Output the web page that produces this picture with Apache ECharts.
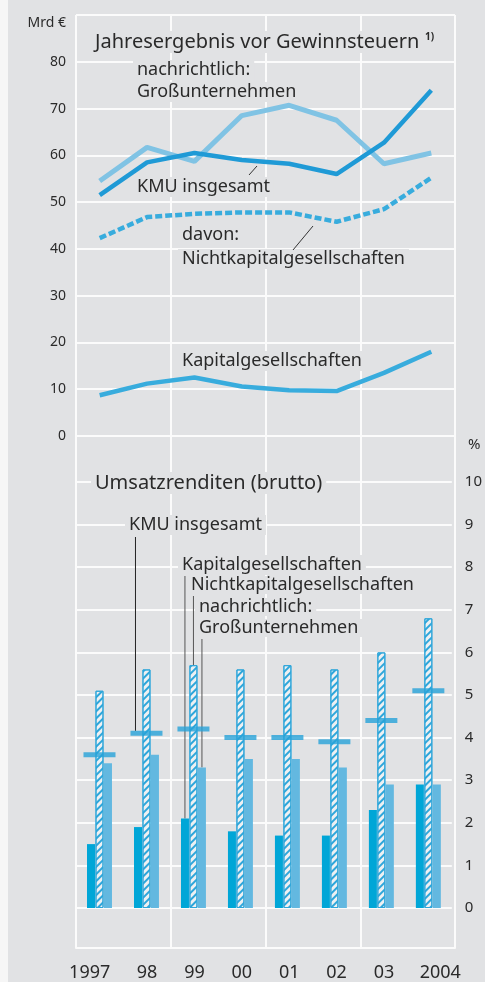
<!DOCTYPE html>
<html>
<head>
<meta charset="utf-8">
<script src="https://cdn.jsdelivr.net/npm/echarts@6/dist/echarts.min.js"></script>
<style>
  html, body { margin: 0; padding: 0; background: #e1e2e4; }
  #main { width: 485px; height: 982px; }
</style>
</head>
<body>
<div id="main"></div>
<script>
// Jahre
const years = ['1997', '98', '99', '00', '01', '02', '03', '2004'];

// Jahresergebnis vor Gewinnsteuern, Mrd €
const grossUnternehmen = [54.5, 61.7, 58.7, 68.5, 70.7, 67.5, 58.2, 60.5];
const kmuGesamt = [51.5, 58.5, 60.5, 59.0, 58.2, 56.0, 62.7, 73.9];
const nichtKapital = [42.3, 46.8, 47.5, 47.8, 47.8, 45.8, 48.5, 55.2];
const kapital = [8.7, 11.2, 12.5, 10.6, 9.8, 9.6, 13.5, 18.0];

// Umsatzrenditen (brutto), %
const renditeKapital = [1.5, 1.9, 2.1, 1.8, 1.7, 1.7, 2.3, 2.9];
const renditeNichtKapital = [5.1, 5.6, 5.7, 5.6, 5.7, 5.6, 6.0, 6.8];
const renditeGross = [3.4, 3.6, 3.3, 3.5, 3.5, 3.3, 2.9, 2.9];
const renditeKmu = [3.6, 4.1, 4.2, 4.0, 4.0, 3.9, 4.4, 5.1];

const topTicks = [0, 10, 20, 30, 40, 50, 60, 70, 80];
const bottomTicks = [0, 1, 2, 3, 4, 5, 6, 7, 8, 9, 10];

const FONT = '"Noto Sans", sans-serif';
const TXT = '#2a2a2a';
const BG = '#e1e2e4';
const GRID = '#fbfbfb';

const myChart = echarts.init(document.getElementById('main'));

const hiddenCat = (grid) => ({
  type: 'category', gridIndex: grid, data: years, boundaryGap: true,
  axisLine: { show: false }, axisTick: { show: false }, axisLabel: { show: false },
  splitLine: { show: false }
});

myChart.setOption({
  backgroundColor: BG,
  animation: false,
  grid: [
    { left: 76, right: 30, top: 15, height: 421 },
    { left: 76, right: 30, top: 482, height: 426 },
    { left: 76, right: 30, top: 15, bottom: 34 }
  ],
  xAxis: [
    hiddenCat(0),
    hiddenCat(1),
    {
      // senkrechte Gitterlinien ueber beide Teile
      type: 'value', gridIndex: 2, min: 0, max: 8, interval: 2,
      axisLine: { show: false }, axisTick: { show: false }, axisLabel: { show: false },
      splitLine: { lineStyle: { color: GRID, width: 2 } }
    },
    {
      type: 'category', gridIndex: 2, position: 'bottom', data: years.map((y, i) => {
        if (i === 0) return { value: y, textStyle: { padding: [0, 20, 0, 0] } };
        if (i === years.length - 1) return { value: y, textStyle: { padding: [0, 0, 0, 18] } };
        return y;
      }),
      boundaryGap: true,
      axisLine: { lineStyle: { color: GRID, width: 2 } },
      axisTick: { length: 24, interval: (i) => i % 2 === 1, lineStyle: { color: GRID, width: 2 } },
      axisLabel: { interval: 0, margin: 16, fontSize: 18, color: TXT, fontFamily: FONT },
      splitLine: { show: false }
    },
    {
      type: 'category', gridIndex: 2, position: 'bottom', data: years, boundaryGap: true,
      axisLine: { show: false },
      axisTick: { inside: true, length: 16, interval: (i) => i % 2 === 1, lineStyle: { color: GRID, width: 2 } },
      axisLabel: { show: false }, splitLine: { show: false }
    }
  ],
  yAxis: [
    {
      type: 'value', gridIndex: 0, min: 0, max: 90, interval: 10,
      axisLine: { show: false }, axisTick: { show: false },
      axisLabel: {
        margin: 10, fontSize: 14, color: TXT, fontFamily: FONT,
        formatter: (v) => topTicks.includes(v) ? String(v) : ''
      },
      splitLine: { lineStyle: { color: GRID, width: 2 } }
    },
    {
      type: 'value', gridIndex: 1, min: 0, max: 10, interval: 1, position: 'right',
      axisLine: { show: false }, axisTick: { show: false },
      axisLabel: {
        margin: 13, fontSize: 15, color: TXT, fontFamily: FONT, align: 'left',
        formatter: (v) => bottomTicks.includes(v) ? String(v) : ''
      },
      splitLine: { lineStyle: { color: GRID, width: 2 } }
    },
    {
      type: 'value', gridIndex: 2, show: false, splitLine: { show: false }
    }
  ],
  series: [
    {
      name: 'Großunternehmen', type: 'line', xAxisIndex: 0, yAxisIndex: 0,
      data: grossUnternehmen, symbol: 'none',
      lineStyle: { color: '#80c3e4', width: 5 }
    },
    {
      name: 'KMU insgesamt', type: 'line', xAxisIndex: 0, yAxisIndex: 0,
      data: kmuGesamt, symbol: 'none',
      lineStyle: { color: '#1f9ad6', width: 4.5 }
    },
    {
      name: 'Nichtkapitalgesellschaften', type: 'line', xAxisIndex: 0, yAxisIndex: 0,
      data: nichtKapital, symbol: 'none',
      lineStyle: { color: '#38acdd', width: 4.5, type: [7, 3] }
    },
    {
      name: 'Kapitalgesellschaften', type: 'line', xAxisIndex: 0, yAxisIndex: 0,
      data: kapital, symbol: 'none',
      lineStyle: { color: '#38acdd', width: 4.5 }
    },
    {
      name: 'Rendite Kapital', type: 'bar', xAxisIndex: 1, yAxisIndex: 1,
      data: renditeKapital, barWidth: 8, barGap: '6%',
      itemStyle: { color: '#00a6d7' }
    },
    {
      name: 'Rendite Nichtkapital', type: 'bar', xAxisIndex: 1, yAxisIndex: 1,
      data: renditeNichtKapital, barWidth: 8, barGap: '6%',
      itemStyle: {
        color: '#eef0f2', borderColor: '#2ea6da', borderWidth: 1,
        decal: {
          symbol: 'rect', symbolSize: 1, color: '#2ea6da',
          dashArrayX: [1, 0], dashArrayY: [2, 3], rotation: -Math.PI / 4
        }
      }
    },
    {
      name: 'Rendite Groß', type: 'bar', xAxisIndex: 1, yAxisIndex: 1,
      data: renditeGross, barWidth: 8, barGap: '6%',
      itemStyle: { color: '#63b8e0' }
    },
    {
      name: 'Rendite KMU', type: 'scatter', xAxisIndex: 1, yAxisIndex: 1,
      data: renditeKmu, symbol: 'rect', symbolSize: [32, 5], z: 5,
      itemStyle: { color: '#27a2d8' }
    }
  ]
});

// Beschriftungen
const txt = (x, y, text, size, extra) => Object.assign({
  type: 'text', z: 1,
  style: Object.assign({
    text: text, x: x, y: y, fill: TXT, font: size + 'px ' + FONT,
    verticalAlign: 'middle', backgroundColor: BG, padding: [1, 4]
  }, extra || {})
});
const line = (x1, y1, x2, y2, color) => ({
  type: 'line', z: 1, shape: { x1: x1, y1: y1, x2: x2, y2: y2 },
  style: { stroke: color || '#333', lineWidth: 1 }
});

const pt = (cat, val) => myChart.convertToPixel({ xAxisIndex: 1, yAxisIndex: 1 }, [cat, val]);
const pKmu = pt(1, renditeKmu[1]);
const pKap = pt(2, renditeKapital[2]);
const pNicht = pt(2, renditeNichtKapital[2]);
const pGross = pt(2, renditeGross[2]);

myChart.setOption({
  graphic: [
    { type: 'rect', z: 0, shape: { x: 0, y: 0, width: 8, height: 982 }, style: { fill: '#f6f6f6' } },
    txt(66, 23, 'Mrd €', 14, { align: 'right', padding: 0 }),
    txt(91, 42, 'Jahresergebnis vor Gewinnsteuern', 20),
    txt(425, 37, '1)', 10, { font: 'bold 10px ' + FONT, padding: 0 }),
    txt(133, 70, 'nachrichtlich:', 18),
    txt(133, 92, 'Großunternehmen', 18),
    txt(133, 187, 'KMU insgesamt', 18),
    line(249, 175, 257, 166),
    txt(178, 235, 'davon:', 18),
    txt(178, 259, 'Nichtkapitalgesellschaften', 18),
    line(293, 250, 313, 226),
    txt(178, 361, 'Kapitalgesellschaften', 18),
    txt(468, 445, '%', 15, { padding: 0, backgroundColor: 'transparent' }),
    txt(91, 483, 'Umsatzrenditen (brutto)', 20),
    txt(125, 525, 'KMU insgesamt', 18),
    line(pKmu[0] - 11, 537, pKmu[0] - 11, pKmu[1] - 2.5, '#222'),
    txt(178, 565, 'Kapitalgesellschaften', 18),
    line(pKap[0] - 8.5, 576, pKap[0] - 8.5, pKap[1], '#555'),
    txt(187, 585, 'Nichtkapitalgesellschaften', 18, { padding: [0, 4] }),
    line(pNicht[0], 596, pNicht[0], pNicht[1], '#555'),
    txt(195, 607, 'nachrichtlich:', 18, { padding: [0, 4] }),
    txt(195, 628, 'Großunternehmen', 18, { padding: [0, 4] }),
    line(pGross[0] + 8.5, 639, pGross[0] + 8.5, pGross[1], '#555')
  ]
});
</script>
</body>
</html>
